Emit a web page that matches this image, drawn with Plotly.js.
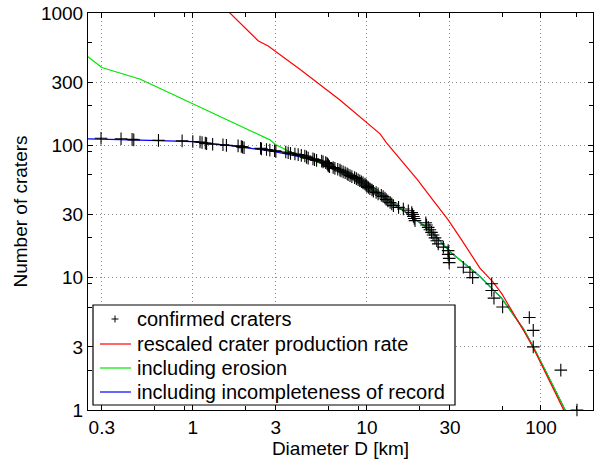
<!DOCTYPE html>
<html><head><meta charset="utf-8">
<script src="https://cdn.plot.ly/plotly-3.0.1.min.js"></script>
<style>html,body{margin:0;padding:0;background:#fff}#chart{width:600px;height:459px}</style>
</head><body><div id="chart"></div><script>
// confirmed craters: diameter (km) and cumulative number
const craterD = [0.297,0.387,0.448,0.458,0.635,0.868,1.0,1.10,1.13,1.18,1.20,1.30,1.49,1.56,1.82,1.90,1.93,1.97,2.45,2.48,2.65,2.77,2.95,3.0,3.42,3.53,3.64,3.86,4.03,4.2,4.4,4.5,4.5,4.6,4.9,5.0,5.14,5.5,5.6,5.8,5.9,5.95,6.0,6.0,6.1,6.4,6.55,6.8,7.0,7.1,7.3,7.5,7.7,7.8,8.0,8.2,8.5,8.7,8.9,9.1,9.3,9.5,9.75,9.9,10.0,10.2,10.4,10.7,10.9,11.3,11.6,12.1,12.4,12.7,12.9,13.2,13.6,13.9,14.2,15.2,16.2,17.3,18.1,18.3,18.5,18.7,18.9,21.8,22.0,22.5,23.0,23.5,24.0,24.6,25.2,25.7,27.5,29.3,29.3,29.7,29.7,35.8,39.1,40.5,52.1,52.1,53.7,60.2,85.7,90.3,90.3,130,161];
const craterN = [113,112,111,110,109,108,107,106,105,104,103,102,101,100,99,98,97,96,95,94,93,92,91,90,89,88,87,86,85,84,83,82,81,80,79,78,77,76,75,74,73,72,71,70,69,68,67,66,65,64,63,62,61,60,59,58,57,56,55,54,53,52,51,50,49,48,47,46,45,44,43,42,41,40,39,38,37,36,35,34,33,32,31,30,29,28,27,26,25,24,23,22,21,20,19,18,17,16,15,14,13,12,11,10,9,8,7,6,5,4,3,2,1];

// rescaled crater production rate
const redD = [1.4,2.37,2.71,4.12,7.0,9.1,11.9,13.0,16.2,19.5,23.9,29.3,35.0,44.6,53.2,59.4,79.3,90.3,135,145];
const redN = [1220,618,564,376,220,165,122,104,73,55,38.7,27.3,19.3,11.8,9.2,7.6,4.0,2.95,1.0,0.83];

// including erosion
const greenD = [0.25,0.3,0.5,2.43,2.77,3.0,3.6,4.5,7,8.5,10,12,14.2,17,20,23,26,30,35,39.1,44.6,50.9,59.4,79.3,90.3,110,137,145];
const greenN = [468,387,316,118,110,101,89.6,80,65,57,49.5,42,36.5,30.7,26.2,22.9,19.3,15.7,13.3,11.8,10.2,8.55,7.0,4.1,3.0,1.8,1.0,0.87];

// including incompleteness of record
const blueD = [0.25,0.3,0.5,1,1.86,3,4.5,7,8.5,10,12,14.2,17,20,23,26,30,35,39.1,44.6,50.9,59.4,79.3,90.3,110,137,145];
const blueN = [112,111.5,109.5,106.7,97.8,89,80,65,57,49.5,42,36.5,30.7,26.2,22.9,19.3,15.7,13.3,11.8,10.2,8.55,7.0,4.1,3.0,1.8,1.0,0.87];

const xTicks = [0.3,1,3,10,30,100];
const xTickText = ['0.3','1','3','10','30','100'];
const xMinor = [0.6,0.9,2,6,9,20,60,160];
const yTicks = [1,3,10,30,100,300,1000];
const yTickText = ['1','3','10','30','100','300','1000'];
const yMinor = [2,6,9,20,60,90,200,600];

const legendNames = ['confirmed craters','rescaled crater production rate','including erosion','including incompleteness of record'];
const legendColors = ['#000','#ff0000','#00e600','#0000ff'];

const FONT = '"Liberation Sans", Arial, Helvetica, sans-serif';

const traces = [
  {x: blueD, y: blueN, type:'scatter', mode:'lines', name:legendNames[3],
   line:{color:legendColors[3], width:1.2}},
  {x: greenD, y: greenN, type:'scatter', mode:'lines', name:legendNames[2],
   line:{color:legendColors[2], width:1.2}},
  {x: redD, y: redN, type:'scatter', mode:'lines', name:legendNames[1],
   line:{color:legendColors[1], width:1.2}},
  {x: craterD, y: craterN, type:'scatter', mode:'markers', name:legendNames[0],
   cliponaxis:false,
   marker:{symbol:'cross-thin-open', size:9, color:'#000', line:{color:'#000', width:1.1}}}
];

// legend box drawn in paper coordinates (plot area 505 x 397 px)
const PW = 505, PH = 397;
const boxL = 5/PW, boxR = 367/PW, boxB = 5/PH, boxT = 105/PH;
const rowY = [91/PH, 66/PH, 42/PH, 18/PH];
const symL = 12/PW, symR = 43/PW, symC = 27/PW, textL = 47/PW;

const shapes = [
  {type:'rect', xref:'paper', yref:'paper', x0:boxL, x1:boxR, y0:boxB, y1:boxT,
   line:{color:'#000', width:1.2}, fillcolor:'#fff', layer:'above'}
];
const annotations = [];
legendNames.forEach((name, i) => {
  if (i === 0) {
    const hx = 3.5/PW, hy = 3.5/PH;
    shapes.push({type:'path', xref:'paper', yref:'paper', layer:'above',
      path:`M ${symC-hx} ${rowY[i]} L ${symC+hx} ${rowY[i]} M ${symC} ${rowY[i]-hy} L ${symC} ${rowY[i]+hy}`,
      line:{color:'#000', width:1}});
  } else {
    shapes.push({type:'line', xref:'paper', yref:'paper', layer:'above',
      x0:symL, x1:symR, y0:rowY[i], y1:rowY[i], line:{color:legendColors[i], width:1.2}});
  }
  annotations.push({xref:'paper', yref:'paper', x:textL, y:rowY[i], xanchor:'left', yanchor:'middle',
    text:name, showarrow:false, font:{family:FONT, size:20, color:'#000'}});
});

const axisCommon = {
  type:'log', showline:true, linecolor:'#000', linewidth:1, mirror:'allticks',
  ticks:'inside', ticklen:5, tickcolor:'#000', tickwidth:1,
  showgrid:true, gridcolor:'#8a8a8a', griddash:'1px,3px', gridwidth:1,
  zeroline:false, tickfont:{family:FONT, size:19, color:'#000'}, tickmode:'array'
};

const layout = {
  width:600, height:459,
  margin:{l:88, r:7, t:13, b:49},
  paper_bgcolor:'#fff', plot_bgcolor:'#fff',
  font:{family:FONT, color:'#000'},
  showlegend:false,
  shapes: shapes,
  annotations: annotations,
  xaxis: Object.assign({}, axisCommon, {
    range:[Math.log10(0.25), Math.log10(199)], tickvals:xTicks, ticktext:xTickText,
    minor:{tickmode:'array', tickvals:xMinor, ticks:'inside', ticklen:4, tickcolor:'#000', showgrid:false},
    title:{text:'Diameter D [km]', font:{family:FONT, size:19, color:'#000'}, standoff:2}
  }),
  yaxis: Object.assign({}, axisCommon, {
    range:[0,3], tickvals:yTicks, ticktext:yTickText,
    minor:{tickmode:'array', tickvals:yMinor, ticks:'inside', ticklen:4, tickcolor:'#000', showgrid:false},
    title:{text:'Number of craters', font:{family:FONT, size:19, color:'#000'}, standoff:8}
  })
};

Plotly.newPlot('chart', traces, layout, {displayModeBar:false, staticPlot:true});
</script></body></html>
